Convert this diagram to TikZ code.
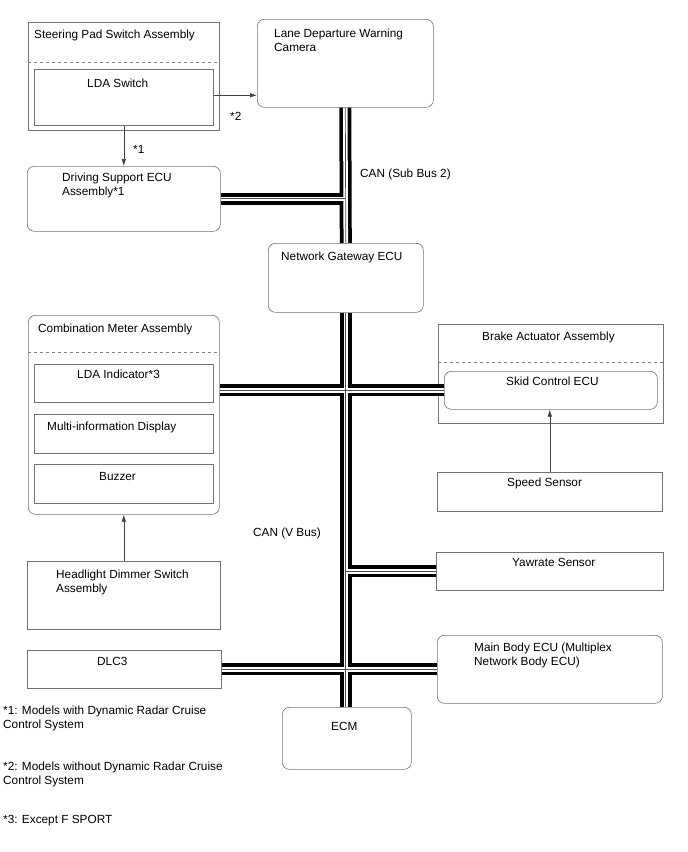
\documentclass[tikz,border=0pt]{standalone}
\usepackage{fontspec}
\setmainfont{Liberation Sans}
\usetikzlibrary{arrows.meta,calc}
\tikzset{
  unit/.style = {draw=gray!90!black, line width=0.6pt, inner sep=0pt, anchor=north west},
  ecu/.style = {unit, rounded corners=7pt},
  part/.style = {unit},
  lbl/.style = {anchor=base west, inner sep=0pt, align=left, font=\fontsize{11.8}{14}\selectfont},
  sig/.style = {draw=black!75, line width=0.6pt, -{Latex[length=7pt,width=4.5pt]}},
  sep/.style = {draw=gray, dashed, line width=0.6pt}
}

\begin{document}
\begin{tikzpicture}[x=1pt,y=-1pt]
\useasboundingbox (0,0) rectangle (688,852);

% boxes
\node[part, minimum width=191pt, minimum height=108pt] (sps) at (28,22) {};
\node[part, minimum width=179pt, minimum height=56pt] (ldasw) at (34,69) {};
\node[ecu, minimum width=176pt, minimum height=88pt] (cam) at (257,19) {};
\node[ecu, minimum width=193pt, minimum height=65pt] (dsa) at (27,166) {};
\node[ecu, minimum width=155pt, minimum height=69pt] (gw) at (268,243) {};
\node[ecu, minimum width=191pt, minimum height=199pt] (meter) at (28,315) {};
\node[part, minimum width=179pt, minimum height=38pt] (ldaind) at (34,364) {};
\node[part, minimum width=179pt, minimum height=39pt] (mid) at (34,414) {};
\node[part, minimum width=179pt, minimum height=39pt] (buz) at (34,464) {};
\node[part, minimum width=225pt, minimum height=99pt] (brk) at (438,324) {};
\node[ecu, minimum width=213pt, minimum height=38pt] (skid) at (444,371) {};
\node[part, minimum width=225pt, minimum height=39pt] (spd) at (437,472) {};
\node[part, minimum width=227pt, minimum height=38pt] (yaw) at (436,552) {};
\node[part, minimum width=193pt, minimum height=68pt] (hds) at (27,561) {};
\node[part, minimum width=194pt, minimum height=38pt] (dlc) at (27,650) {};
\node[ecu, minimum width=225pt, minimum height=68pt] (mb) at (437,635) {};
\node[ecu, minimum width=129pt, minimum height=62pt] (ecm) at (282,707) {};

\draw[sep] ($(sps.north west)+(0,40)$) -- ($(sps.north east)+(0,40)$);
\draw[sep] ($(meter.north west)+(0,37)$) -- ($(meter.north east)+(0,37)$);
\draw[sep] ($(brk.north west)+(0,38)$) -- ($(brk.north east)+(0,38)$);

% CAN bus, three layers
\foreach \w/\c in {12pt/black, 4.5pt/white, 0.7pt/black!70}{
  \draw[line width=\w, \c] (cam.south) -- (gw.north);
  \draw[line width=\w, \c] (dsa.east) -- (dsa.east -| cam.south);
  \draw[line width=\w, \c] (gw.south) -- (gw.south |- ecm.north);
  \draw[line width=\w, \c] (meter.east |- skid.west) -- (skid.west);
  \draw[line width=\w, \c] (gw.south |- yaw.west) -- (yaw.west);
  \draw[line width=\w, \c] (dlc.east) -- (mb.west);
}

% signal lines
\draw[sig] ([yshift=2pt]ldasw.east) -- ([yshift=2pt]ldasw.east -| cam.west);
\draw[sig] (ldasw.south) -- (ldasw.south |- dsa.north);
\draw[sig] (spd.north) -- (spd.north |- skid.south);
\draw[sig] (hds.north) -- (hds.north |- meter.south);

% texts
\node[lbl] (spstxt) at (34,38) {Steering Pad Switch Assembly};
\node[lbl] (ldaswtxt) at (87,87) {LDA Switch};
\node[lbl] (camtxt) at (274,51.5) {Lane Departure Warning\\Camera};
\node[lbl] (dsatxt) at (62,195.5) {Driving Support ECU\\Assembly*1};
\node[lbl] (gwtxt) at (281,260.5) {Network Gateway ECU};
\node[lbl] (subbus) at (360,177) {CAN (Sub Bus 2)};
\node[lbl] (note1) at (133,153) {*1};
\node[lbl] (note2) at (230,120) {*2};
\node[lbl] (metertxt) at (38,332) {Combination Meter Assembly};
\node[lbl] (ldaindtxt) at (77,378) {LDA Indicator*3};
\node[lbl] (midtxt) at (47,430) {Multi-information Display};
\node[lbl] (buztxt) at (99,480.5) {Buzzer};
\node[lbl] (vbus) at (253,536) {CAN (V Bus)};
\node[lbl] (brktxt) at (482,340.5) {Brake Actuator Assembly};
\node[lbl] (skidtxt) at (506,385.5) {Skid Control ECU};
\node[lbl] (spdtxt) at (507,486) {Speed Sensor};
\node[lbl] (yawtxt) at (512,566) {Yawrate Sensor};
\node[lbl] (hdstxt) at (56,592.5) {Headlight Dimmer Switch\\Assembly};
\node[lbl] (dlctxt) at (97,665) {DLC3};
\node[lbl] (mbtxt) at (474,665.5) {Main Body ECU (Multiplex\\Network Body ECU)};
\node[lbl] (ecmtxt) at (331,730.5) {ECM};
\node[lbl] (foot1) at (3,728.5) {*1: Models with Dynamic Radar Cruise\\Control System};
\node[lbl] (foot2) at (3,784.5) {*2: Models without Dynamic Radar Cruise\\Control System};
\node[lbl] (foot3) at (3,823.5) {*3: Except F SPORT};
\end{tikzpicture}
\end{document}
